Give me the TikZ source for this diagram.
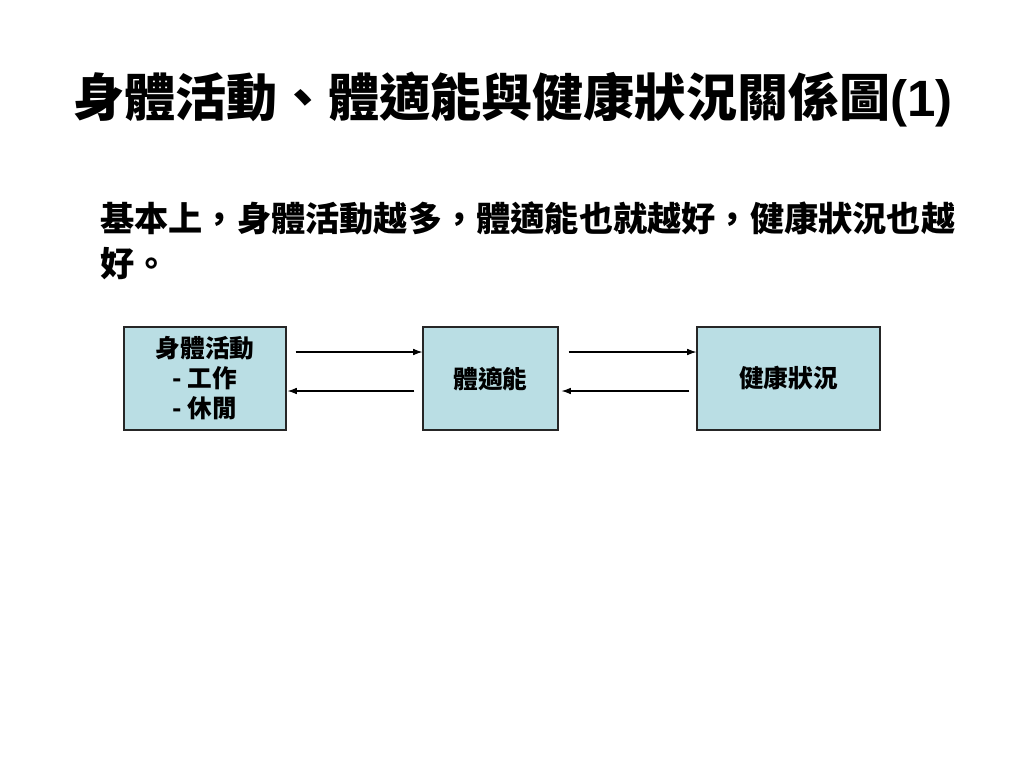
\documentclass[tikz,border=0pt]{standalone}
\usepackage{fontspec}
\setmainfont{Noto Sans CJK TC}
\newfontfamily\latinbold{Liberation Sans}
\usetikzlibrary{arrows.meta,calc}
\definecolor{boxfill}{RGB}{186,222,228}
\begin{document}
\begin{tikzpicture}[x=0.75pt,y=-0.75pt,
  box/.style={draw=black!85,line width=0.8pt,fill=boxfill,inner sep=0pt,
    font=\fontsize{18.5pt}{22.5pt}\selectfont\bfseries,align=center},
  arr/.style={line width=0.8pt,-{Latex[length=7pt,width=5pt]}}]
\useasboundingbox[fill=white] (0,0) rectangle (1024,768);
\node[font=\fontsize{38.3pt}{42pt}\selectfont\bfseries] (title) at (513,100)
  {身體活動、體適能與健康狀況關係圖{\latinbold(1)}};
\node[anchor=north west,inner sep=0pt,align=left,
  font=\fontsize{25.65pt}{33.75pt}\selectfont\bfseries] (body) at (100,201)
  {基本上，身體活動越多，體適能也就越好，健康狀況也越\\好。};
\node[box,minimum width=162*0.75pt,minimum height=103*0.75pt] (b1) at (205,378.5)
  {身體活動\\- 工作\\- 休閒};
\node[box,minimum width=135*0.75pt,minimum height=103*0.75pt] (b2) at (490.5,378.5)
  {體適能};
\node[box,minimum width=183*0.75pt,minimum height=103*0.75pt] (b3) at (788.5,378.5)
  {健康狀況};
\draw[arr] ($(b1.east)+(9,-26.5)$) -- ($(b2.west)+(0,-26.5)$);
\draw[arr] ($(b2.west)+(-8,12.5)$) -- ($(b1.east)+(1,12.5)$);
\draw[arr] ($(b2.east)+(10,-26.5)$) -- ($(b3.west)+(0,-26.5)$);
\draw[arr] ($(b3.west)+(-7,12.5)$) -- ($(b2.east)+(3,12.5)$);
\end{tikzpicture}
\end{document}
